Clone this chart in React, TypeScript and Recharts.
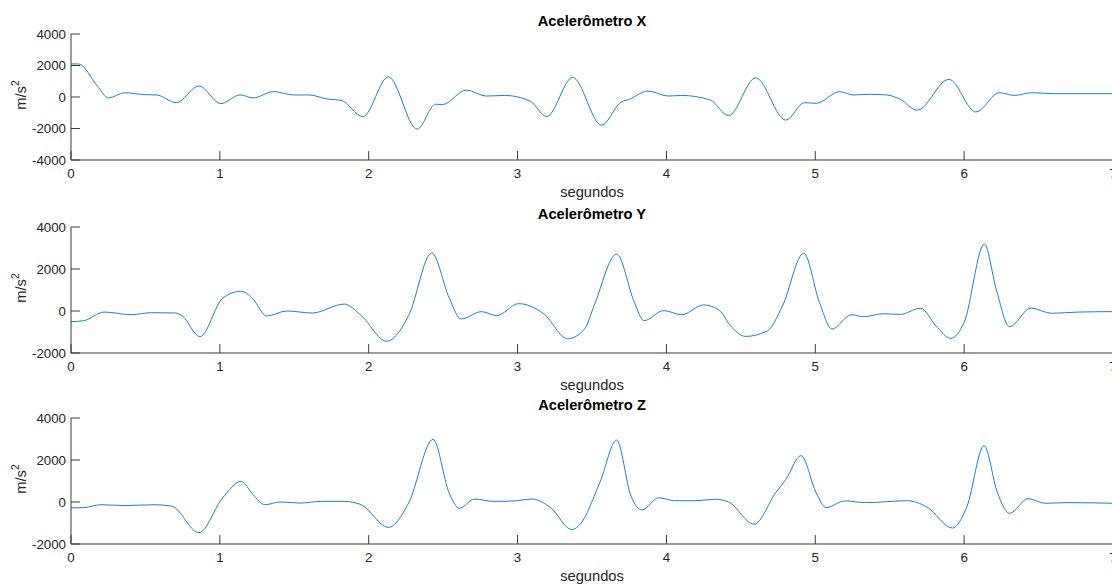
import React from "react";
import { LineChart, Line, XAxis, YAxis } from "recharts";

// time (s) and acceleration (m/s^2), one pair per axis
const timeX = [0, 0.05, 0.177, 0.252, 0.36, 0.495, 0.575, 0.707, 0.859, 1.007, 1.136, 1.223, 1.359, 1.495, 1.598, 1.723, 1.814, 1.961, 2.132, 2.325, 2.45, 2.495, 2.655, 2.79, 2.916, 3.086, 3.195, 3.37, 3.564, 3.695, 3.75, 3.876, 4.011, 4.1, 4.294, 4.418, 4.599, 4.802, 4.927, 5.006, 5.164, 5.254, 5.367, 5.48, 5.571, 5.684, 5.898, 6.079, 6.237, 6.339, 6.452, 6.61, 7];
const accX = [2100, 2100, 700, -60, 270, 150, 130, -360, 700, -420, 130, -60, 340, 130, 130, -130, -210, -1240, 1280, -2040, -460, -480, 440, 60, 100, -270, -1240, 1240, -1790, -320, -150, 380, 60, 100, -190, -1180, 1220, -1470, -360, -400, 340, 130, 170, 130, -150, -840, 1120, -950, 270, 100, 270, 210, 210];

const timeY = [0, 0.086, 0.223, 0.405, 0.541, 0.7, 0.745, 0.866, 1.018, 1.143, 1.223, 1.314, 1.45, 1.62, 1.836, 1.95, 2.12, 2.268, 2.423, 2.541, 2.62, 2.757, 2.86, 3.007, 3.177, 3.336, 3.45, 3.514, 3.665, 3.785, 3.849, 3.982, 4.102, 4.249, 4.35, 4.44, 4.531, 4.679, 4.78, 4.922, 5.028, 5.112, 5.243, 5.322, 5.458, 5.571, 5.706, 5.819, 5.91, 6.0, 6.136, 6.215, 6.305, 6.448, 6.588, 6.769, 7];
const accY = [-510, -460, -50, -175, -80, -95, -220, -1220, 600, 940, 570, -240, 0, -95, 330, -220, -1440, -220, 2760, 620, -380, -30, -220, 350, -140, -1320, -860, 250, 2710, 410, -460, 20, -175, 290, 60, -780, -1210, -940, 250, 2750, 410, -860, -175, -270, -130, -160, 130, -780, -1300, -540, 3190, 1050, -750, 140, -110, -50, -30];

const timeZ = [0, 0.086, 0.2, 0.36, 0.564, 0.677, 0.859, 1.018, 1.143, 1.223, 1.302, 1.405, 1.541, 1.677, 1.836, 1.95, 2.132, 2.268, 2.432, 2.541, 2.609, 2.711, 2.836, 2.973, 3.098, 3.223, 3.364, 3.446, 3.514, 3.559, 3.665, 3.762, 3.835, 3.948, 4.056, 4.192, 4.328, 4.418, 4.588, 4.734, 4.802, 4.904, 5.006, 5.073, 5.198, 5.345, 5.616, 5.751, 5.921, 6.02, 6.133, 6.224, 6.305, 6.429, 6.542, 6.7, 7];
const accZ = [-280, -270, -130, -170, -130, -200, -1460, 190, 980, 350, -130, 0, -50, 30, 30, -130, -1210, -50, 2980, 420, -300, 140, 30, 50, 140, -280, -1310, -800, 270, 1050, 2950, 280, -380, 200, 60, 60, 130, 0, -1060, 440, 1070, 2210, 440, -270, 50, -30, 60, -240, -1240, -190, 2680, 440, -540, 160, -60, -30, -60];

const secTicks = [0, 1, 2, 3, 4, 5, 6, 7];
const ticksWide = [-4000, -2000, 0, 2000, 4000];
const ticksNarrow = [-2000, 0, 2000, 4000];

const AX = "#3a3a3a";
const TXT = "#262626";
const FONT = "'Liberation Sans', Arial, Helvetica, sans-serif";
const LINE = "#1f80c8";

const toRows = (t: number[], v: number[]) => t.map((s, i) => ({ t: s, v: v[i] }));

const tickText = { fill: TXT, fontSize: 13.3, fontFamily: FONT };

function bottomTick(p: any) {
  return (
    <g>
      <line x1={p.x} x2={p.x} y1={p.y} y2={p.y - 9} stroke={AX} />
      <text x={p.x} y={p.y + 9} dy="0.71em" textAnchor="middle" {...tickText}>
        {p.payload.value}
      </text>
    </g>
  );
}

function topTick(p: any) {
  return <line x1={p.x} x2={p.x} y1={p.y} y2={p.y + 9} stroke={AX} />;
}

function leftTick(p: any) {
  return (
    <g>
      <line x1={p.x} x2={p.x + 9} y1={p.y} y2={p.y} stroke={AX} />
      <text x={p.x - 5} y={p.y} dy="0.36em" textAnchor="end" {...tickText}>
        {p.payload.value}
      </text>
    </g>
  );
}

function rightTick(p: any) {
  return <line x1={p.x - 9} x2={p.x} y1={p.y} y2={p.y} stroke={AX} />;
}

function YLabel(p: any) {
  const vb = p.viewBox || { x: 0, y: 0, width: 71, height: 126 };
  const cx = 22;
  const cy = vb.y + vb.height / 2 - 2;
  return (
    <text x={cx} y={cy} transform={`rotate(-90 ${cx} ${cy})`} textAnchor="middle" dominantBaseline="middle" fill={TXT} fontSize={14.7} fontFamily={FONT}>
      <tspan>m/s</tspan>
      <tspan dy={-6} fontSize={10.5}>2</tspan>
    </text>
  );
}

function XLabel(p: any) {
  const vb = p.viewBox || { x: 71, y: 0, width: 1042, height: 40 };
  return (
    <text x={vb.x + vb.width / 2} y={vb.y + 37} textAnchor="middle" fill={TXT} fontSize={14.7} fontFamily={FONT}>
      segundos
    </text>
  );
}

function Panel(props: { title: string; rows: { t: number; v: number }[]; yTicks: number[]; top: number; height: number }) {
  const { title, rows, yTicks, top, height } = props;
  const domain = [yTicks[0], yTicks[yTicks.length - 1]];
  return (
    <div style={{ position: "absolute", left: 0, top, width: 1113, height }}>
      <div
        style={{
          position: "absolute",
          left: 71,
          width: 1042,
          top: 13,
          textAlign: "center",
          fontFamily: FONT,
          fontWeight: "bold",
          fontSize: 14.7,
          lineHeight: "16px",
          color: "#000",
        }}
      >
        {title}
      </div>
      <LineChart width={1113} height={height} data={rows} margin={{ top: 34, right: 0, left: 0, bottom: 0 }}>
        <XAxis
          xAxisId="b"
          dataKey="t"
          type="number"
          domain={[0, 7]}
          ticks={secTicks}
          interval={0}
          allowDataOverflow
          height={height - 34 - 127 + 1}
          stroke={AX}
          tickSize={0}
          tickMargin={0}
          tickLine={false}
          tick={bottomTick}
          label={<XLabel />}
        />
        <XAxis
          xAxisId="top"
          orientation="top"
          dataKey="t"
          type="number"
          domain={[0, 7]}
          ticks={secTicks}
          interval={0}
          allowDataOverflow
          height={0}
          stroke={AX}
          tickSize={0}
          tickMargin={0}
          tickLine={false}
          tick={topTick}
        />
        <YAxis
          yAxisId="l"
          type="number"
          domain={domain}
          ticks={yTicks}
          interval={0}
          allowDataOverflow
          width={71}
          stroke={AX}
          tickSize={0}
          tickMargin={0}
          tickLine={false}
          tick={leftTick}
          label={<YLabel />}
        />
        <YAxis
          yAxisId="r"
          orientation="right"
          type="number"
          domain={domain}
          ticks={yTicks}
          interval={0}
          allowDataOverflow
          width={0}
          stroke={AX}
          tickSize={0}
          tickMargin={0}
          tickLine={false}
          tick={rightTick}
        />
        <Line
          xAxisId="b"
          yAxisId="l"
          dataKey="v"
          type="monotone"
          stroke={LINE}
          strokeWidth={1}
          dot={false}
          isAnimationActive={false}
        />
      </LineChart>
    </div>
  );
}

export default function App() {
  return (
    <div style={{ position: "absolute", left: 0, top: 0, width: 1112, height: 585, overflow: "hidden", background: "#fff" }}>
      <Panel title="Acelerômetro X" rows={toRows(timeX, accX)} yTicks={ticksWide} top={0} height={200} />
      <Panel title="Acelerômetro Y" rows={toRows(timeY, accY)} yTicks={ticksNarrow} top={193} height={200} />
      <Panel title="Acelerômetro Z" rows={toRows(timeZ, accZ)} yTicks={ticksNarrow} top={384} height={201} />
    </div>
  );
}
